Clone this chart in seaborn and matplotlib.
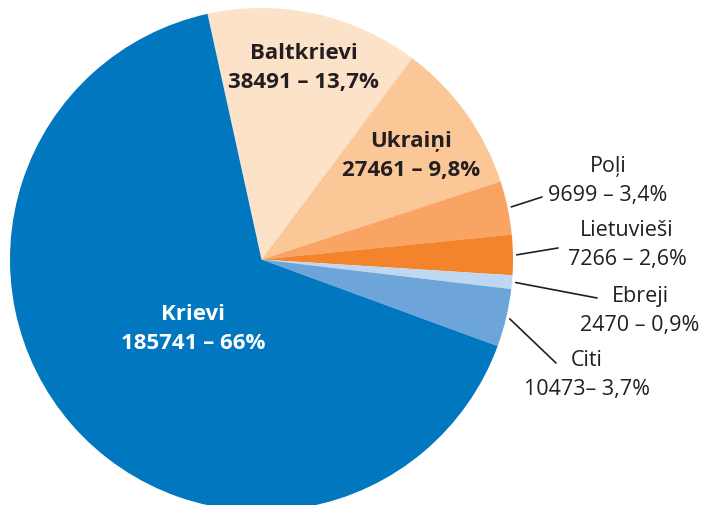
import numpy as np
import matplotlib.pyplot as plt
import seaborn as sns

# data
groups = ["Baltkrievi", "Ukraiņi", "Poļi", "Lietuvieši", "Ebreji", "Citi", "Krievi"]
counts = [38491, 27461, 9699, 7266, 2470, 10473, 185741]
pct_labels = ["13,7%", "9,8%", "3,4%", "2,6%", "0,9%", "3,7%", "66%"]
colors = ["#FDE2CA", "#FBC797", "#F9A462", "#F3842B", "#BFD7F0", "#6DA4DA", "#0077BF"]

sns.set_theme(style="white")
plt.rcParams["font.family"] = ["Open Sans", "DejaVu Sans"]

fig = plt.figure(figsize=(7.05, 5.05), dpi=100)
ax = fig.add_axes([0, 0, 1, 1])

wedges, _ = ax.pie(counts, colors=colors, startangle=102.4, counterclock=False,
                   radius=1.0, wedgeprops=dict(linewidth=0))

ax.set_aspect("equal")
ax.set_xlim(-261.5 / 251.5, (705 - 261.5) / 251.5)
ax.set_ylim(-(505 - 259.5) / 251.5, 259.5 / 251.5)
ax.axis("off")

txt_color = "#231F20"
nudge = 3 / 251.5  # small downward shift for text


def px(x, y):
    return (x - 261.5) / 251.5, (259.5 - y) / 251.5


def mid_angle(w):
    return np.deg2rad((w.theta1 + w.theta2) / 2)


# labels inside the big slices
inside = {"Baltkrievi": 0.79, "Ukraiņi": 0.73, "Krievi": 0.38}
for i, g in enumerate(groups):
    if g in inside:
        a = mid_angle(wedges[i])
        r = inside[g]
        if g == "Krievi":
            a = np.deg2rad(224)
        col = "white" if g == "Krievi" else txt_color
        ax.text(r * np.cos(a), r * np.sin(a) - nudge, f"{g}\n{counts[i]} – {pct_labels[i]}",
                ha="center", va="center", fontsize=16, fontweight="bold",
                color=col, linespacing=1.5)

# labels outside with leader lines
outside = {
    "Poļi": ((608, 181), (542, 197)),
    "Lietuvieši": ((627, 245), (558, 248)),
    "Ebreji": ((640, 311), (597, 298)),
    "Citi": ((587, 375), (556, 363)),
}
for i, g in enumerate(groups):
    if g in outside:
        (tx, ty), (lx, ly) = outside[g]
        a = mid_angle(wedges[i])
        x0, y0 = 1.015 * np.cos(a), 1.015 * np.sin(a)
        x1, y1 = px(lx, ly)
        ax.plot([x0, x1], [y0, y1], color=txt_color, lw=1.2)
        sep = "– " if g == "Citi" else " – "
        ax.text(*px(tx, ty), f"{g}\n{counts[i]}{sep}{pct_labels[i]}",
                ha="center", va="center", fontsize=15.5, color=txt_color,
                linespacing=1.5)

fig.savefig("out.png", dpi=100)
